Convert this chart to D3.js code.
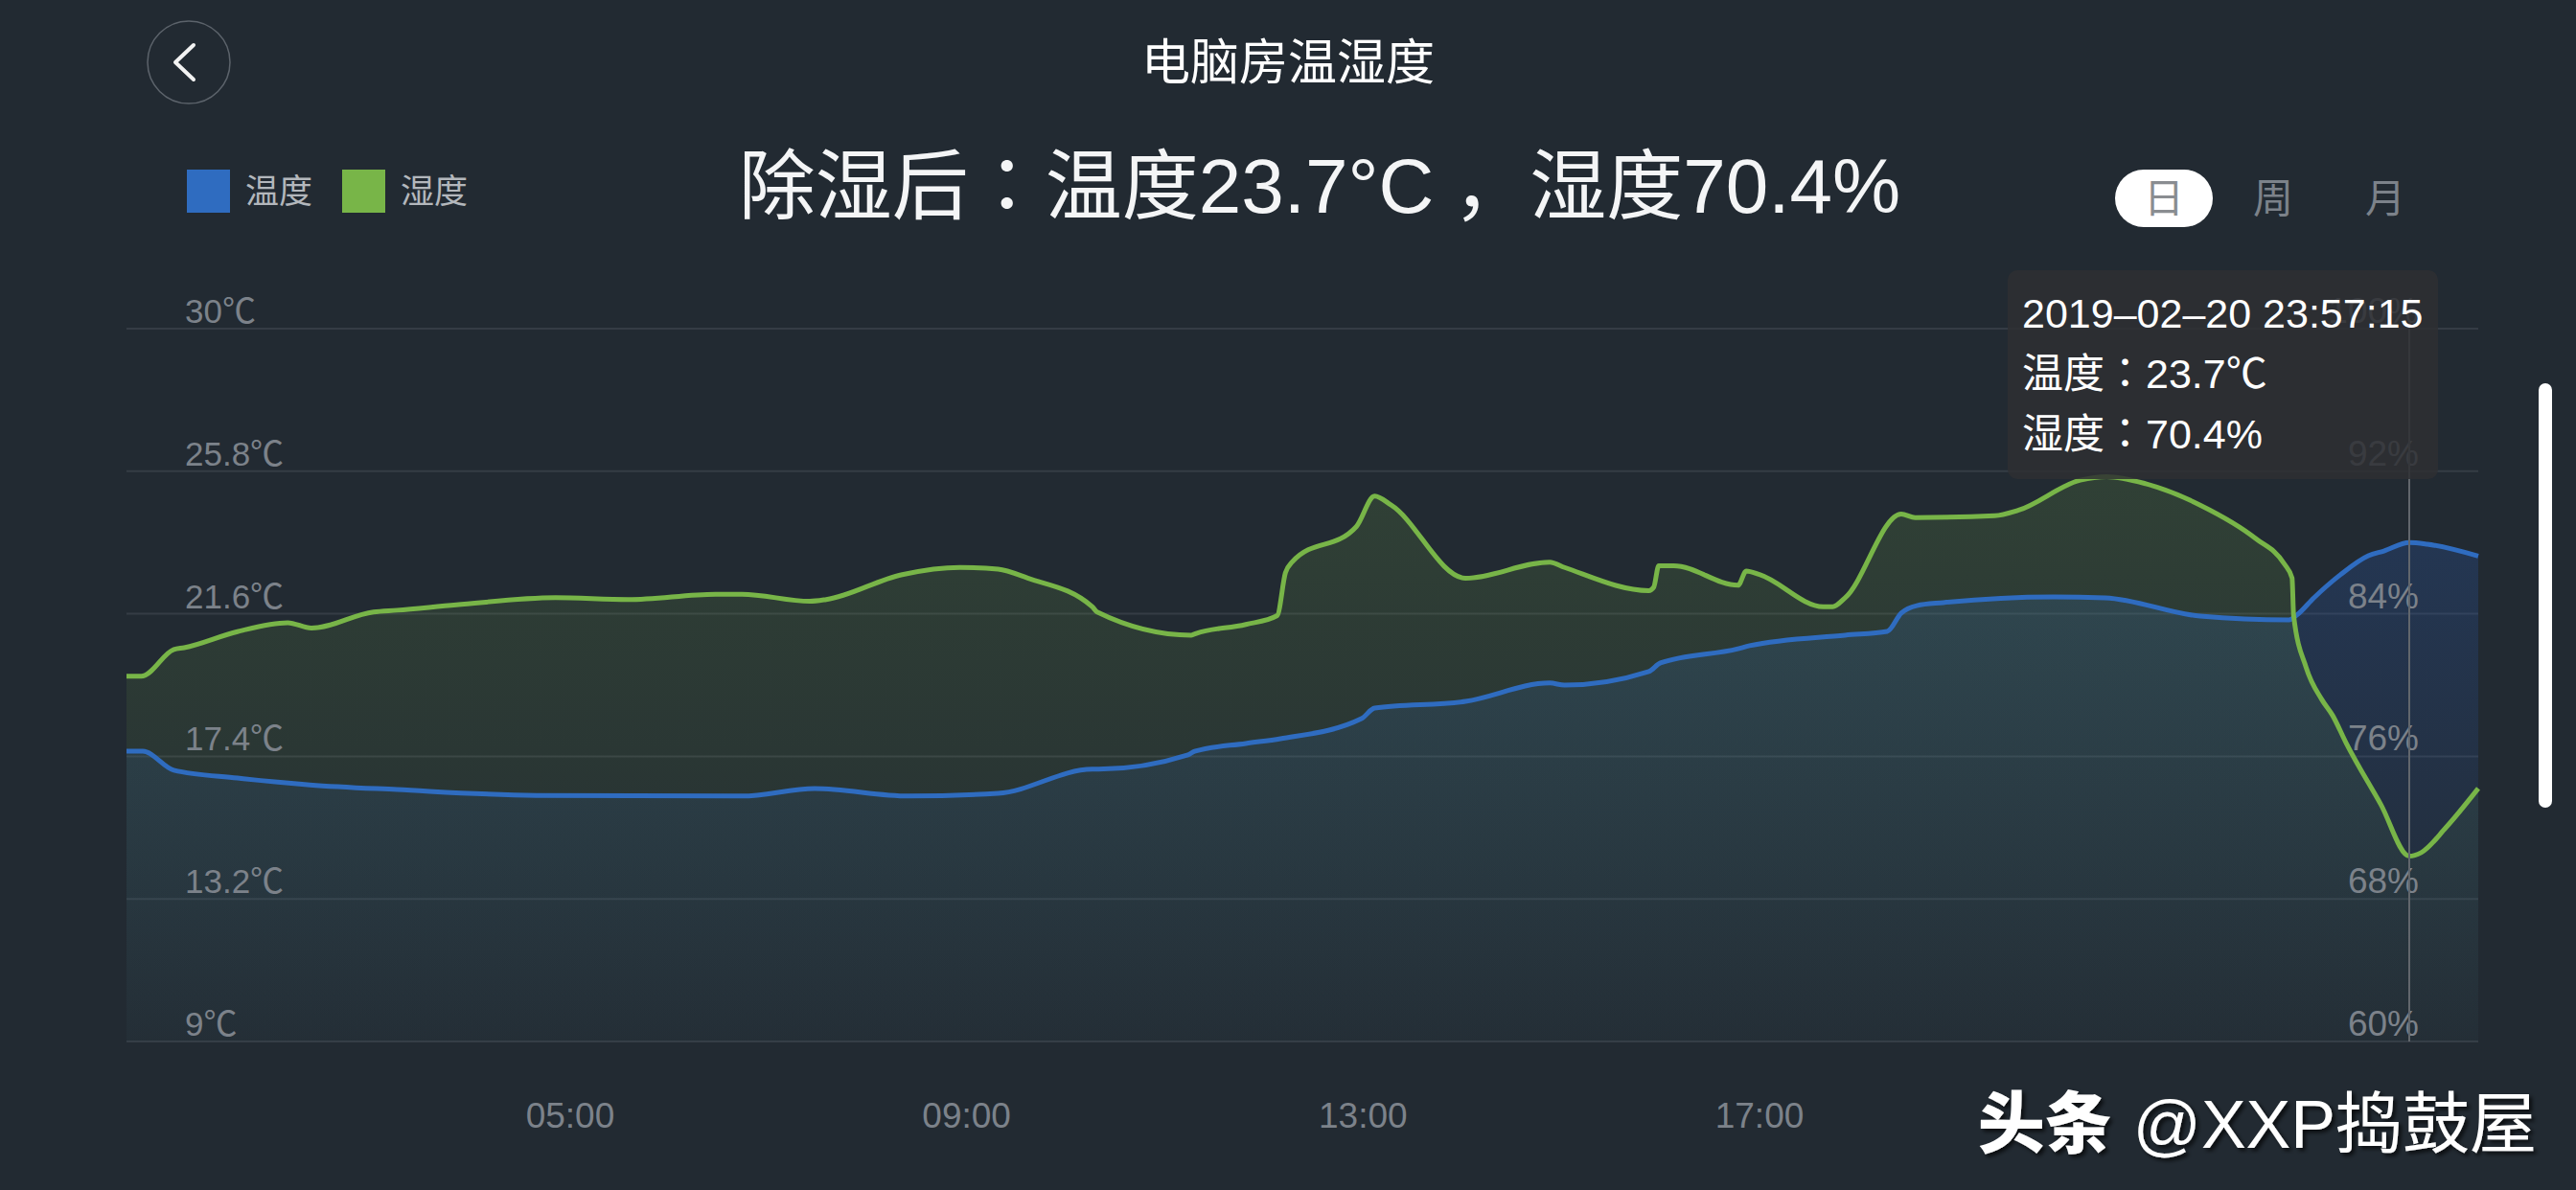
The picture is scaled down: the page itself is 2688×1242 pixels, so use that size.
<!DOCTYPE html>
<html><head><meta charset="utf-8">
<script src="https://cdn.jsdelivr.net/npm/d3@7"></script>
<style>
html,body{margin:0;padding:0;background:#222a32;overflow:hidden}
svg{display:block}
</style></head><body>
<svg id="c" width="2688" height="1242"></svg>
<script>
// ---------- data ----------
const chartTitle = "电脑房温湿度";
const headline = "除湿后：温度23.7°C，湿度70.4%";
const legendNames = ["温度", "湿度"];
const periodTabs = ["日", "周", "月"];
const tempTicks = [9, 13.2, 17.4, 21.6, 25.8, 30];
const humTicks = [60, 68, 76, 84, 92, 100];
const xTickLabels = ["05:00", "09:00", "13:00", "17:00"];
const xTickTimes = ["2019-02-20 05:00", "2019-02-20 09:00", "2019-02-20 13:00", "2019-02-20 17:00"];

const tempTimes = ["2019-02-20 00:00","2019-02-20 00:11","2019-02-20 00:32","2019-02-20 01:15","2019-02-20 02:04",
  "2019-02-20 03:03","2019-02-20 04:37","2019-02-20 06:44","2019-02-20 07:28","2019-02-20 08:25","2019-02-20 09:19",
  "2019-02-20 10:16","2019-02-20 10:20","2019-02-20 11:14","2019-02-20 11:18","2019-02-20 11:49","2019-02-20 12:10",
  "2019-02-20 12:59","2019-02-20 13:07","2019-02-20 14:02","2019-02-20 14:53","2019-02-20 15:02","2019-02-20 15:53",
  "2019-02-20 16:00","2019-02-20 16:47","2019-02-20 16:54","2019-02-20 17:55","2019-02-20 18:22","2019-02-20 18:31",
  "2019-02-20 18:41","2019-02-20 18:58","2019-02-20 20:09","2019-02-20 20:42","2019-02-20 21:43","2019-02-20 22:40",
  "2019-02-20 22:45","2019-02-20 22:56","2019-02-20 23:13","2019-02-20 23:31","2019-02-20 23:41","2019-02-20 23:57:15",
  "2019-02-21 00:09","2019-02-21 00:42"];
const tempValues = [17.55,17.55,16.99,16.76,16.56,16.42,16.25,16.23,16.45,16.23,16.31,
  17.02,17.02,17.44,17.55,17.78,17.92,18.51,18.82,19.02,19.56,19.50,19.90,
  20.15,20.57,20.66,20.97,21.08,21.62,21.84,21.93,22.10,22.07,21.53,21.42,
  21.56,22.07,22.75,23.31,23.45,23.7,23.65,23.3];

const humTimes = ["2019-02-20 00:00","2019-02-20 00:10","2019-02-20 00:32","2019-02-20 00:39","2019-02-20 01:15",
  "2019-02-20 01:49","2019-02-20 02:05","2019-02-20 02:47","2019-02-20 03:03","2019-02-20 03:43","2019-02-20 04:50",
  "2019-02-20 05:35","2019-02-20 06:28","2019-02-20 06:44","2019-02-20 07:25","2019-02-20 07:35","2019-02-20 08:21",
  "2019-02-20 08:56","2019-02-20 09:19","2019-02-20 09:37","2019-02-20 10:16","2019-02-20 10:19","2019-02-20 11:16",
  "2019-02-20 11:19","2019-02-20 11:49","2019-02-20 12:08","2019-02-20 12:13","2019-02-20 12:17","2019-02-20 12:56",
  "2019-02-20 13:07","2019-02-20 13:17","2019-02-20 14:02","2019-02-20 14:53","2019-02-20 15:02","2019-02-20 15:53",
  "2019-02-20 15:56","2019-02-20 15:59","2019-02-20 16:08","2019-02-20 16:47","2019-02-20 16:52","2019-02-20 17:00",
  "2019-02-20 17:41","2019-02-20 17:47","2019-02-20 17:55","2019-02-20 18:31","2019-02-20 18:40","2019-02-20 19:31",
  "2019-02-20 19:46","2019-02-20 20:26","2019-02-20 20:43","2019-02-20 21:08","2019-02-20 21:43","2019-02-20 22:19",
  "2019-02-20 22:37","2019-02-20 22:42","2019-02-20 22:43","2019-02-20 22:51","2019-02-20 23:01","2019-02-20 23:08",
  "2019-02-20 23:17","2019-02-20 23:39","2019-02-20 23:57:15","2019-02-21 00:05","2019-02-21 00:21","2019-02-21 00:42"];
const humValues = [80.5,80.5,82.0,82.1,83.0,83.5,83.2,84.1,84.2,84.5,84.9,
  84.8,85.1,85.1,84.7,84.8,86.2,86.6,86.5,86.0,84.4,84.1,82.8,
  82.9,83.4,83.9,86.3,86.9,88.9,90.6,90.1,86.0,86.9,86.6,85.3,
  85.5,86.7,86.7,85.6,86.4,86.2,84.4,84.4,84.9,89.6,89.4,89.5,
  89.8,91.5,91.7,91.3,90.1,88.2,86.8,86.0,83.9,81.0,79.2,78.3,
  76.7,73.3,70.4,70.6,72.0,74.2];

const tooltipTime = "2019-02-20 23:57:15";
const tooltipTemp = 23.7;
const tooltipHum = 70.4;
const watermarkBrand = "头条";
const watermarkUser = "@XXP捣鼓屋";

// x axis is not uniform in time (sample-based axis): breakpoints as fractions of the plot width
const xBreakTimes = ["2019-02-20 00:00", "2019-02-20 05:00", "2019-02-20 17:00", "2019-02-20 23:57:15", "2019-02-21 00:42"];
const xBreakFractions = [0, 0.18867, 0.69438, 0.97066, 1];

// ---------- layout ----------
const W = 2688, H = 1242;
const plot = {left: 132, right: 2586, top: 343, bottom: 1087};
const BLUE = "#2f6cc0", GREEN = "#78b548";
const LABEL = "#7c828a", GRID = "#353c45";
const FONT = "'Liberation Sans', 'Noto Sans CJK SC', sans-serif";
const CJK = "'Noto Sans CJK SC', 'Liberation Sans', sans-serif";
const CJKTC = "'Liberation Sans', 'Noto Sans CJK TC', sans-serif";

const parse = s => d3.timeParse(s.length > 16 ? "%Y-%m-%d %H:%M:%S" : "%Y-%m-%d %H:%M")(s);

const svg = d3.select("#c");

const x = d3.scaleTime()
  .domain(xBreakTimes.map(parse))
  .range(xBreakFractions.map(f => plot.left + f * (plot.right - plot.left)));
const yT = d3.scaleLinear().domain([9, 30]).range([plot.bottom, plot.top]);
const yH = d3.scaleLinear().domain([60, 100]).range([plot.bottom, plot.top]);

const tempData = tempTimes.map((t, i) => ({t: parse(t), v: tempValues[i]}));
const humData = humTimes.map((t, i) => ({t: parse(t), v: humValues[i]}));

// gradients / filters
const defs = svg.append("defs");
function grad(id, color, a0, a1) {
  const g = defs.append("linearGradient").attr("id", id).attr("x1", 0).attr("y1", 0).attr("x2", 0).attr("y2", 1);
  g.append("stop").attr("offset", "0%").attr("stop-color", color).attr("stop-opacity", a0);
  g.append("stop").attr("offset", "100%").attr("stop-color", color).attr("stop-opacity", a1);
}
grad("gBlue", "#2a5db8", 0.24, 0.03);
grad("gGreen", "#7ab648", 0.16, 0.02);
defs.append("filter").attr("id", "shadow").attr("x", "-10%").attr("y", "-30%").attr("width", "130%").attr("height", "160%")
  .append("feDropShadow").attr("dx", 3).attr("dy", 3).attr("stdDeviation", 2)
  .attr("flood-color", "#000000").attr("flood-opacity", 0.7);

// header
svg.append("circle").attr("cx", 197).attr("cy", 65).attr("r", 43)
  .attr("fill", "none").attr("stroke", "#5c636b").attr("stroke-width", 1.5);
svg.append("path").attr("d", "M202,47 L183,65 L202,83")
  .attr("fill", "none").attr("stroke", "#f2f2f2").attr("stroke-width", 4)
  .attr("stroke-linecap", "round").attr("stroke-linejoin", "round");

svg.append("text").attr("x", 1344).attr("y", 83).attr("text-anchor", "middle")
  .attr("font-family", CJK).attr("font-size", 51).attr("fill", "#ffffff").text(chartTitle);

// headline: fullwidth colon centred (TC glyph), fullwidth comma nudged toward the middle of its cell
const hl = svg.append("text").attr("x", 1377).attr("y", 222).attr("text-anchor", "middle")
  .attr("font-family", FONT).attr("font-size", 80).attr("fill", "#f4f5f6");
headline.split(/(：|，)/).filter(s => s.length).forEach(part => {
  const t = hl.append("tspan").text(part);
  if (part === "：") t.attr("font-family", CJKTC);
  else if (part === "，") t.attr("font-family", CJK).attr("dx", 20);
});

// legend
const legendColors = [BLUE, GREEN];
const legendX = [195, 357];
legendNames.forEach((n, i) => {
  svg.append("rect").attr("x", legendX[i]).attr("y", 177).attr("width", 45).attr("height", 45).attr("fill", legendColors[i]);
  svg.append("text").attr("x", legendX[i] + 61).attr("y", 212)
    .attr("font-family", CJK).attr("font-size", 35).attr("fill", "#b3b7bc").text(n);
});

// period tabs
const tabX = [2258, 2372, 2489];
svg.append("rect").attr("x", 2207).attr("y", 177).attr("width", 102).attr("height", 60).attr("rx", 30).attr("fill", "#ffffff");
periodTabs.forEach((p, i) => {
  svg.append("text").attr("x", tabX[i]).attr("y", 222).attr("text-anchor", "middle")
    .attr("font-family", CJK).attr("font-size", 42).attr("fill", i === 0 ? "#8a8d91" : "#7c828a").text(p);
});

// grid lines
svg.append("g").selectAll("line").data(tempTicks).join("line")
  .attr("x1", plot.left).attr("x2", plot.right)
  .attr("y1", d => yT(d)).attr("y2", d => yT(d))
  .attr("stroke", GRID).attr("stroke-width", 2);

// areas
const areaT = d3.area().x(d => x(d.t)).y0(plot.bottom).y1(d => yT(d.v)).curve(d3.curveMonotoneX);
const areaH = d3.area().x(d => x(d.t)).y0(plot.bottom).y1(d => yH(d.v)).curve(d3.curveMonotoneX);
svg.append("path").datum(tempData).attr("d", areaT).attr("fill", "url(#gBlue)");
svg.append("path").datum(humData).attr("d", areaH).attr("fill", "url(#gGreen)");

// axis labels (left: temperature, right: humidity)
svg.append("g").selectAll("text").data(tempTicks).join("text")
  .attr("x", 193).attr("y", d => yT(d) - 6)
  .attr("font-family", FONT).attr("font-size", 35).attr("fill", LABEL)
  .text(d => d + "℃");
svg.append("g").selectAll("text").data(humTicks).join("text")
  .attr("x", 2524).attr("y", d => yH(d) - 6).attr("text-anchor", "end")
  .attr("font-family", FONT).attr("font-size", 37).attr("fill", LABEL)
  .text(d => d + "%");

// x axis labels
svg.append("g").selectAll("text").data(xTickTimes).join("text")
  .attr("x", d => x(parse(d))).attr("y", 1177).attr("text-anchor", "middle")
  .attr("font-family", FONT).attr("font-size", 37).attr("fill", LABEL)
  .text((d, i) => xTickLabels[i]);

// lines
const lineT = d3.line().x(d => x(d.t)).y(d => yT(d.v)).curve(d3.curveMonotoneX);
const lineH = d3.line().x(d => x(d.t)).y(d => yH(d.v)).curve(d3.curveMonotoneX);
svg.append("path").datum(tempData).attr("d", lineT).attr("fill", "none")
  .attr("stroke", BLUE).attr("stroke-width", 5).attr("stroke-linejoin", "round");
svg.append("path").datum(humData).attr("d", lineH).attr("fill", "none")
  .attr("stroke", GREEN).attr("stroke-width", 5).attr("stroke-linejoin", "round");

// crosshair
const tx = x(parse(tooltipTime));
svg.append("line").attr("x1", tx).attr("x2", tx).attr("y1", plot.top).attr("y2", plot.bottom)
  .attr("stroke", "#62676d").attr("stroke-width", 2);

// tooltip
svg.append("rect").attr("x", 2095).attr("y", 282).attr("width", 449).attr("height", 218).attr("rx", 10)
  .attr("fill", "rgba(46,47,50,0.85)");
const tipLines = [tooltipTime.replace(/-/g, "–"), "温度：" + tooltipTemp + "℃", "湿度：" + tooltipHum + "%"];
tipLines.forEach((s, i) => {
  svg.append("text").attr("x", 2110).attr("y", 342 + i * 63)
    .attr("font-family", CJKTC).attr("font-size", 43).attr("fill", "#ffffff").text(s);
});

// scrollbar
svg.append("rect").attr("x", 2649).attr("y", 400).attr("width", 14).attr("height", 443).attr("rx", 7).attr("fill", "#ffffff");

// watermark
const wm = svg.append("text").attr("x", 2647).attr("y", 1198).attr("text-anchor", "end")
  .attr("font-family", FONT).attr("font-size", 70).attr("fill", "#ffffff").attr("filter", "url(#shadow)");
wm.append("tspan").attr("font-family", CJK).attr("font-weight", 900).text(watermarkBrand);
wm.append("tspan").attr("dx", 22).text(watermarkUser);
</script>
</body></html>
